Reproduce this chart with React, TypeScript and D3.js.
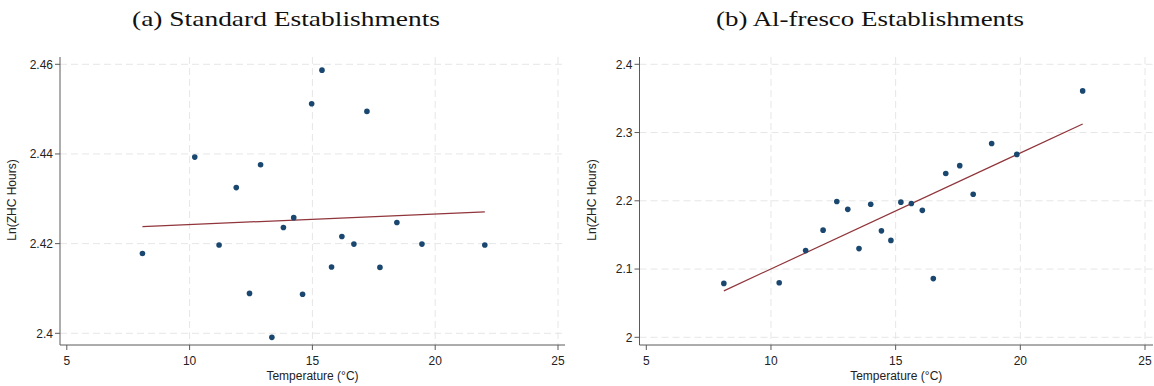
import React from 'react';
import * as d3 from 'd3';

// panel (a): standard establishments
const stdTemp = [8.08, 10.21, 11.2, 11.9, 12.44, 12.89, 13.35, 13.82, 14.24, 14.6, 14.97, 15.39, 15.78, 16.2, 16.69, 17.22, 17.75, 18.44, 19.46, 22.02];
const stdHours = [2.4178, 2.4393, 2.4197, 2.4325, 2.4089, 2.4376, 2.3991, 2.4236, 2.4258, 2.4087, 2.4512, 2.4587, 2.4148, 2.4216, 2.4199, 2.4495, 2.4147, 2.4247, 2.4199, 2.4197];
const stdFitTemp = [8.08, 22.02];
const stdFitHours = [2.4238, 2.4271];
const stdYTicks = [2.4, 2.42, 2.44, 2.46];

// panel (b): al-fresco establishments
const alfTemp = [8.11, 10.33, 11.39, 12.09, 12.64, 13.08, 13.53, 14.0, 14.43, 14.81, 15.21, 15.63, 16.07, 16.51, 17.01, 17.57, 18.11, 18.85, 19.86, 22.5];
const alfHours = [2.079, 2.08, 2.127, 2.157, 2.199, 2.1875, 2.13, 2.195, 2.156, 2.142, 2.198, 2.196, 2.186, 2.086, 2.24, 2.2515, 2.2095, 2.284, 2.268, 2.361];
const alfFitTemp = [8.11, 22.5];
const alfFitHours = [2.068, 2.3126];
const alfYTicks = [2, 2.1, 2.2, 2.3, 2.4];

const xTicks = [5, 10, 15, 20, 25];

const NAVY = '#1a476f';
const MAROON = '#90353b';
const GRID = '#e6e6e6';
const AXIS = '#5a5a5a';
const SANS = 'Arial, "Liberation Sans", sans-serif';

interface PanelProps {
  title: string;
  titleX: number;
  temps: number[];
  hours: number[];
  fitTemps: number[];
  fitHours: number[];
  yTicks: number[];
  xPix: [number, number]; // pixels for 5 and 25
  yPix: [number, number]; // pixels for first and last y tick
  left: number;
  right: number;
}

const TOP = 57;
const BOTTOM = 345;

const Panel: React.FC<PanelProps> = ({ title, titleX, temps, hours, fitTemps, fitHours, yTicks, xPix, yPix, left, right }) => {
  const x = d3.scaleLinear().domain([5, 25]).range(xPix);
  const y = d3.scaleLinear().domain([yTicks[0], yTicks[yTicks.length - 1]]).range(yPix);
  const line = d3.line<number>().x(d => x(d)).y((d, i) => y(fitHours[i]));

  return (
    <g>
      <text x={titleX} y={26} textAnchor="middle" fontFamily='"Liberation Serif", "DejaVu Serif", serif' fontSize={22} fill="#111"
        textLength={308} lengthAdjust="spacingAndGlyphs">{title}</text>

      {/* grid */}
      {yTicks.map(t => (
        <line key={'gy' + t} x1={left} x2={right} y1={y(t)} y2={y(t)} stroke={GRID} strokeDasharray="7,4" />
      ))}
      {xTicks.slice(1).map(t => (
        <line key={'gx' + t} x1={x(t)} x2={x(t)} y1={TOP} y2={BOTTOM} stroke={GRID} strokeDasharray="7,4" />
      ))}

      {/* axes */}
      <line x1={left} x2={left} y1={TOP} y2={BOTTOM} stroke={AXIS} />
      <line x1={left} x2={right} y1={BOTTOM} y2={BOTTOM} stroke={AXIS} />
      {yTicks.map(t => (
        <g key={'ty' + t}>
          <line x1={left - 5} x2={left} y1={y(t)} y2={y(t)} stroke={AXIS} />
          <text x={left - 7} y={y(t)} dy="0.35em" textAnchor="end" fontFamily={SANS} fontSize={12} fill="#222">
            {String(+t.toFixed(2))}
          </text>
        </g>
      ))}
      {xTicks.map(t => (
        <g key={'tx' + t}>
          <line x1={x(t)} x2={x(t)} y1={BOTTOM} y2={BOTTOM + 5} stroke={AXIS} />
          <text x={x(t)} y={BOTTOM + 20} textAnchor="middle" fontFamily={SANS} fontSize={12} fill="#222">{t}</text>
        </g>
      ))}
      <text x={(left + right) / 2} y={380} textAnchor="middle" fontFamily={SANS} fontSize={12} fill="#222">Temperature (°C)</text>
      <text transform={`translate(${left - 44},200) rotate(-90)`} textAnchor="middle" fontFamily={SANS} fontSize={12} fill="#222">Ln(ZHC Hours)</text>

      {/* fit line */}
      <path d={line(fitTemps) || ''} fill="none" stroke={MAROON} strokeWidth={1.2} />

      {/* points */}
      {temps.map((t, i) => (
        <circle key={i} cx={x(t)} cy={y(hours[i])} r={2.8} fill={NAVY} />
      ))}
    </g>
  );
};

export default function App() {
  return (
    <svg width={1154} height={386} style={{ position: 'absolute', left: 0, top: 0, background: '#fff' }}>
      <rect width={1154} height={386} fill="#fff" />
      <Panel title="(a) Standard Establishments" titleX={286} temps={stdTemp} hours={stdHours}
        fitTemps={stdFitTemp} fitHours={stdFitHours} yTicks={stdYTicks}
        xPix={[66.8, 558]} yPix={[333.3, 64.3]} left={60} right={565} />
      <Panel title="(b) Al-fresco Establishments" titleX={870} temps={alfTemp} hours={alfHours}
        fitTemps={alfFitTemp} fitHours={alfFitHours} yTicks={alfYTicks}
        xPix={[646.3, 1145]} yPix={[337.3, 64.3]} left={639.5} right={1153} />
    </svg>
  );
}
